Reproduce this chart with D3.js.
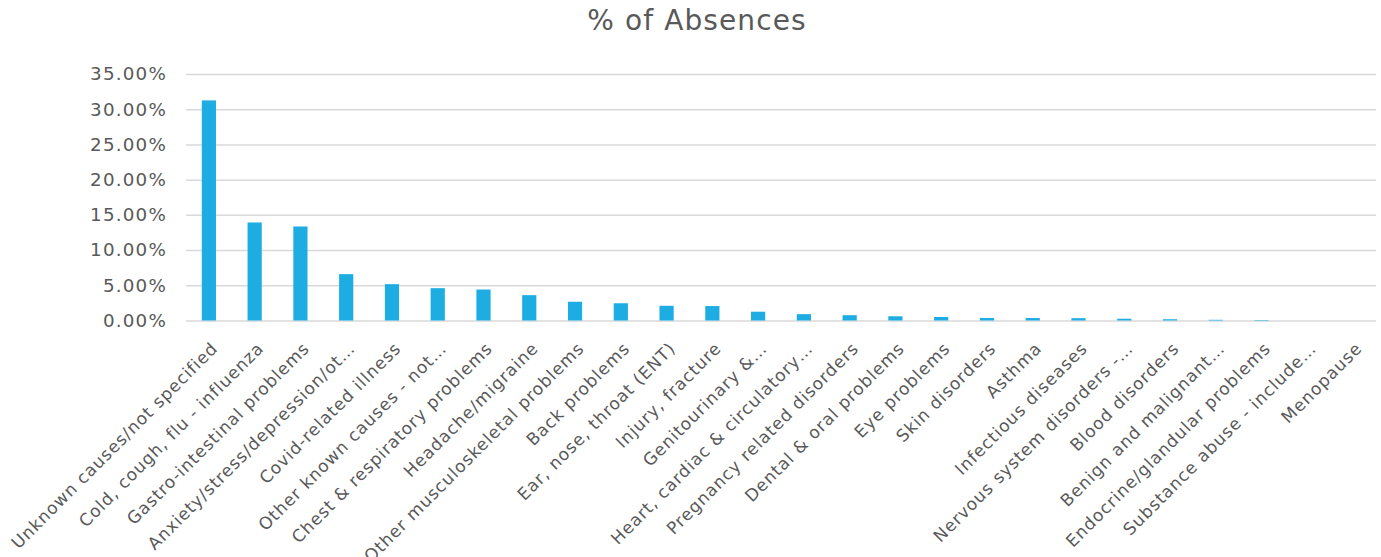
<!DOCTYPE html>
<html>
<head>
<meta charset="utf-8">
<script src="https://cdn.jsdelivr.net/npm/d3@7"></script>
<style>
  html, body { margin: 0; padding: 0; background: #fff; }
  svg { display: block; }
</style>
</head>
<body>
<svg id="chart" width="1381" height="557"></svg>
<script>
// Absence reasons and their share of all absences (fractions)
const categories = [
  "Unknown causes/not specified",
  "Cold, cough, flu - influenza",
  "Gastro-intestinal problems",
  "Anxiety/stress/depression/ot…",
  "Covid-related illness",
  "Other known causes - not…",
  "Chest & respiratory problems",
  "Headache/migraine",
  "Other musculoskeletal problems",
  "Back problems",
  "Ear, nose, throat (ENT)",
  "Injury, fracture",
  "Genitourinary &…",
  "Heart, cardiac & circulatory…",
  "Pregnancy related disorders",
  "Dental & oral problems",
  "Eye problems",
  "Skin disorders",
  "Asthma",
  "Infectious diseases",
  "Nervous system disorders -…",
  "Blood disorders",
  "Benign and malignant…",
  "Endocrine/glandular problems",
  "Substance abuse - include…",
  "Menopause"
];
const shares = [
  0.3125, 0.1392, 0.1335, 0.0658, 0.0516, 0.0459, 0.0440, 0.0360,
  0.0266, 0.0245, 0.0209, 0.0205, 0.0125, 0.0090, 0.0075, 0.0060,
  0.0050, 0.0036, 0.0035, 0.0033, 0.0025, 0.0018, 0.0010, 0.0007,
  0.0000, 0.0000
];
const yTicks = [0, 0.05, 0.10, 0.15, 0.20, 0.25, 0.30, 0.35];
const title = "% of Absences";

const svg = d3.select("#chart");
const font = "'DejaVu Sans', sans-serif";
const margin = { left: 186, right: 5, top: 74 };
const W = 1381;
const plotBottom = 320.5;

const x = d3.scaleBand()
  .domain(categories)
  .range([margin.left, W - margin.right])
  .paddingInner(0.69)
  .paddingOuter(0.345);

const y = d3.scaleLinear()
  .domain([0, 0.35])
  .range([plotBottom, margin.top]);

// Title
svg.append("text")
  .attr("x", 697)
  .attr("y", 29.5)
  .attr("text-anchor", "middle")
  .attr("font-family", font)
  .attr("font-size", 28)
  .attr("letter-spacing", 1.1)
  .attr("fill", "#595959")
  .text(title);

// Gridlines + y labels
const yAxis = d3.axisLeft(y)
  .tickValues(yTicks)
  .tickSize(-(W - margin.right - margin.left))
  .tickFormat(d3.format(".2%"));

const gy = svg.append("g")
  .attr("transform", `translate(${margin.left},0)`)
  .call(yAxis);
gy.select(".domain").remove();
gy.selectAll(".tick line")
  .attr("stroke", "#d9d9d9")
  .attr("stroke-width", 1.5);
gy.selectAll(".tick text")
  .attr("x", -19)
  .attr("font-family", font)
  .attr("font-size", 18.3)
  .attr("letter-spacing", 1.2)
  .attr("fill", "#595959");

// Bars
svg.append("g")
  .selectAll("rect")
  .data(shares)
  .join("rect")
  .attr("x", (d, i) => x(categories[i]))
  .attr("y", d => y(d))
  .attr("width", x.bandwidth())
  .attr("height", d => Math.max(0, y(0) - y(d)))
  .attr("fill", "#1eade3");

// Category labels, rotated
const gx = svg.append("g")
  .attr("transform", `translate(0,${plotBottom})`)
  .call(d3.axisBottom(x).tickSize(0));
gx.select(".domain").remove();
gx.selectAll(".tick text")
  .attr("font-family", font)
  .attr("font-size", 17)
  .attr("letter-spacing", 0.9)
  .attr("fill", "#595959")
  .attr("text-anchor", "end")
  .attr("y", 0)
  .attr("dy", 0)
  .attr("transform", "translate(10,29) rotate(-45)");
</script>
</body>
</html>
